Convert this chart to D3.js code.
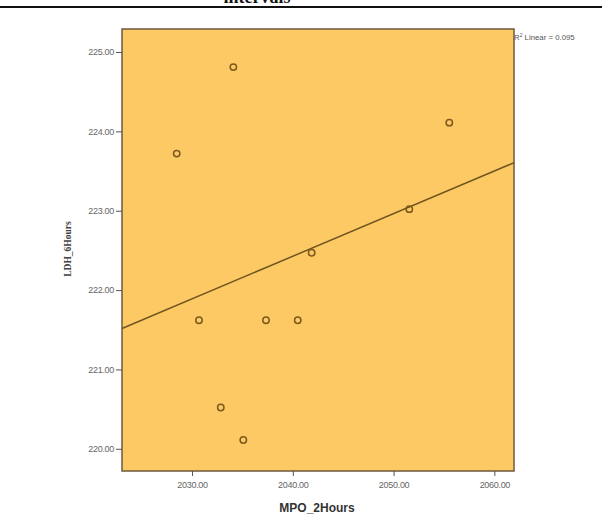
<!DOCTYPE html>
<html>
<head>
<meta charset="utf-8">
<script src="https://cdn.jsdelivr.net/npm/d3@7"></script>
<style>
body{margin:0;background:#fff;}
svg{display:block;}
</style>
</head>
<body>
<svg id="chart" width="602" height="532"></svg>
<script>
const mpo2Hours = [2028.48, 2034.10, 2030.69, 2032.85, 2035.09, 2037.34, 2040.49, 2041.87, 2051.56, 2055.53];
const ldh6Hours = [223.72, 224.81, 221.62, 220.52, 220.11, 221.62, 221.62, 222.47, 223.02, 224.11];
const xTicks = [2030, 2040, 2050, 2060];
const yTicks = [220, 221, 222, 223, 224, 225];
const xDomain = [2023.05, 2061.95];
const yDomain = [219.72, 225.29];
const r2Label = "Linear = 0.095";

const svg = d3.select("#chart");
const plot = {left:122, right:514, top:29, bottom:471};

const x = d3.scaleLinear().domain(xDomain).range([plot.left, plot.right]);
const y = d3.scaleLinear().domain(yDomain).range([plot.bottom, plot.top]);

// top rule and (cut) title, as in the source page
svg.append("line").attr("x1",0).attr("x2",602).attr("y1",7).attr("y2",7)
  .attr("stroke","#111").attr("stroke-width",2);
svg.append("text").attr("x",257).attr("y",3).attr("text-anchor","middle")
  .attr("font-family","Liberation Serif, Times New Roman, serif").attr("font-weight","bold")
  .attr("font-size",18).attr("fill","#111").text("intervals");

// plot background
svg.append("rect").attr("x",plot.left).attr("y",plot.top)
  .attr("width",plot.right-plot.left).attr("height",plot.bottom-plot.top)
  .attr("fill","#fdc964").attr("stroke","#6e5a3c").attr("stroke-width",1.5);

// axes
const xAxis = d3.axisBottom(x).tickValues(xTicks).tickFormat(d3.format(".2f")).tickSize(5).tickSizeOuter(0);
const yAxis = d3.axisLeft(y).tickValues(yTicks).tickFormat(d3.format(".2f")).tickSize(6).tickSizeOuter(0);

const gx = svg.append("g").attr("transform",`translate(0,${plot.bottom})`).call(xAxis);
const gy = svg.append("g").attr("transform",`translate(${plot.left},0)`).call(yAxis);
[gx, gy].forEach(g => {
  g.select(".domain").remove();
  g.selectAll(".tick line").attr("stroke","#555").attr("stroke-width",1);
  g.selectAll(".tick text").attr("fill","#666").attr("font-family","Liberation Sans, Arial, sans-serif")
    .attr("font-size",9).attr("letter-spacing","-0.3");
});
gx.selectAll(".tick text").attr("dy","0").attr("y",17);
gy.selectAll(".tick text").attr("x",-8);

// regression line computed from data
const mx = d3.mean(mpo2Hours), my = d3.mean(ldh6Hours);
let sxy = 0, sxx = 0;
mpo2Hours.forEach((v,i)=>{ sxy += (v-mx)*(ldh6Hours[i]-my); sxx += (v-mx)*(v-mx); });
const slope = sxy/sxx, intercept = my - slope*mx;
svg.append("line")
  .attr("x1", x(xDomain[0])).attr("y1", y(intercept + slope*xDomain[0]))
  .attr("x2", x(xDomain[1])).attr("y2", y(intercept + slope*xDomain[1]))
  .attr("stroke","#6f5520").attr("stroke-width",1.5);

// points
svg.append("g").selectAll("circle").data(mpo2Hours).join("circle")
  .attr("cx", d=>x(d)).attr("cy",(d,i)=>y(ldh6Hours[i])).attr("r",3.2)
  .attr("fill","none").attr("stroke","#7a5a1e").attr("stroke-width",1.5);

// R² label
const rl = svg.append("text").attr("x",514).attr("y",40)
  .attr("font-family","Liberation Sans, Arial, sans-serif").attr("font-size",7.8).attr("fill","#555");
rl.append("tspan").text("R");
rl.append("tspan").attr("dy",-3).attr("font-size",5).text("2");
rl.append("tspan").attr("dy",3).text(" " + r2Label);

// axis titles
svg.append("text").attr("x",317).attr("y",512).attr("text-anchor","middle")
  .attr("font-family","Liberation Sans, Arial, sans-serif").attr("font-weight","bold")
  .attr("font-size",12).attr("fill","#333").text("MPO_2Hours");
svg.append("text").attr("transform","translate(71,249) rotate(-90)").attr("text-anchor","middle")
  .attr("font-family","Liberation Serif, Times New Roman, serif").attr("font-weight","bold")
  .attr("font-size",9.5).attr("fill","#444").text("LDH_6Hours");
</script>
</body>
</html>
